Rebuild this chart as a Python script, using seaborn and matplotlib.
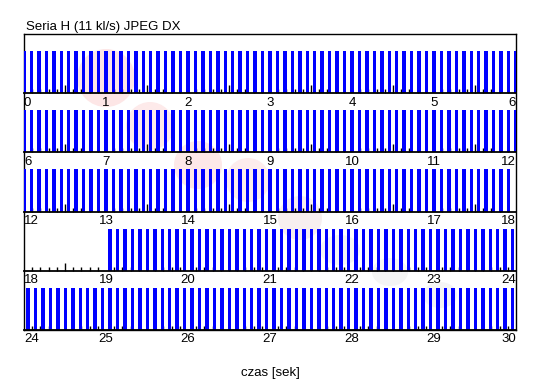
import numpy as np
import pandas as pd
import matplotlib
matplotlib.use("Agg")
import matplotlib.pyplot as plt
from matplotlib.patches import Circle, Ellipse
from matplotlib.ticker import MultipleLocator
import seaborn as sns

# ---- data ----
title = "Seria H (11 kl/s) JPEG DX"
xlabel = "czas [sek]"
fps = 11
seg_start = [0.0, 19.05]      # start of each continuous burst segment [s]
seg_frames = [198, 121]       # number of frames in each segment
row_starts = [0, 6, 12, 18, 24]
row_span = 6

frames = np.concatenate([s + np.arange(n) / fps for s, n in zip(seg_start, seg_frames)])

# ---- style ----
sns.set_theme(style="white")
plt.rcParams["font.family"] = ["Liberation Sans", "DejaVu Sans"]

W, H = 540, 390
fig = plt.figure(figsize=(W / 100, H / 100), dpi=100)
fig.patch.set_facecolor("white")

def fx(px):
    return px / W

def fy(py_top):
    return 1 - py_top / H

# outer frame
L, R, T, B = 24, 516, 34, 330
outer = fig.add_axes([fx(L), fy(B), (R - L) / W, (B - T) / H])
outer.set_xlim(0, R - L)
outer.set_ylim(B - T, 0)
outer.set_xticks([])
outer.set_yticks([])
for sp in outer.spines.values():
    sp.set_color("black")
    sp.set_linewidth(1.0)
outer.set_facecolor("white")

# faint watermark
for (cx, cy, r, c) in [(106, 78, 29, "#fde6e6"), (150, 126, 24, "#fdeaea"),
                       (198, 165, 24, "#fde8e8"), (248, 180, 22, "#fdecec"),
                       (300, 218, 22, "#f7efef")]:
    outer.add_patch(Circle((cx - L, cy - T), r, color=c, lw=0, zorder=0))
for (cx, cy, w, h) in [(340, 250, 40, 30), (390, 272, 36, 28), (440, 295, 34, 26)]:
    outer.add_patch(Ellipse((cx - L, cy - T), w, h, color="#f5f5f5", lw=0, zorder=0))

# rows
row_bottom = [93.3, 152.5, 211.7, 271.0, 330.0]
row_h = 42.5
for r0, yb in zip(row_starts, row_bottom):
    ax = fig.add_axes([fx(L), fy(yb), (R - L) / W, row_h / H])
    ax.patch.set_visible(False)
    sel = frames[(frames >= r0 - 1e-6) & (frames <= r0 + row_span + 1e-6)]
    df = pd.DataFrame({"t": sel, "v": np.ones(len(sel))})
    if len(df):
        sns.barplot(data=df, x="t", y="v", native_scale=True, width=0.46,
                    color="#0000ff", saturation=1, errorbar=None,
                    linewidth=0, ax=ax)
    ax.set_xlim(r0, r0 + row_span)
    ax.set_ylim(0, 1)
    ax.set_xlabel("")
    ax.set_ylabel("")
    ax.set_yticks([])
    for s in ["top", "left", "right"]:
        ax.spines[s].set_visible(False)
    ax.spines["bottom"].set_color("black")
    ax.spines["bottom"].set_linewidth(1.3)
    ax.set_axisbelow(True)

    majors = np.arange(r0, r0 + row_span + 0.01, 0.5)
    ax.set_xticks(majors)
    ax.set_xticklabels([f"{int(m)}" if abs(m - round(m)) < 1e-6 else "" for m in majors])
    ax.xaxis.set_minor_locator(MultipleLocator(0.1))
    ax.tick_params(axis="x", which="major", direction="in", length=6, width=1,
                   color="black", labelsize=9.5, labelcolor="black", pad=2.5, bottom=True)
    ax.tick_params(axis="x", which="minor", direction="in", length=3, width=1,
                   color="black", bottom=True)
    ticks = ax.xaxis.get_major_ticks()
    for m, tk in zip(majors, ticks):
        if abs(m - round(m)) < 1e-6:
            tk.tick1line.set_markersize(0)
    ticks[0].label1.set_horizontalalignment("left")
    ticks[-1].label1.set_horizontalalignment("right")

fig.text(fx(26), fy(30), title, ha="left", va="baseline", fontsize=9.5, color="black")
fig.text(fx(270), fy(373), xlabel, ha="center", va="center", fontsize=9.5, color="black")

fig.savefig("out.png", dpi=100, facecolor="white")
